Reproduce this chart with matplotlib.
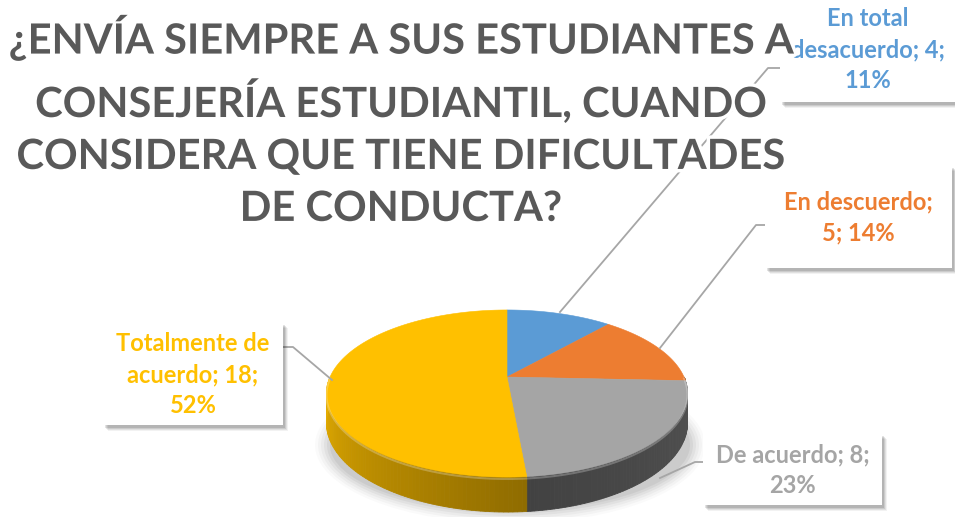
import numpy as np
import matplotlib
matplotlib.use("Agg")
import matplotlib.pyplot as plt
import matplotlib.patheffects as pe
from matplotlib.patches import Polygon, Rectangle, Ellipse

title = "¿ENVÍA SIEMPRE A SUS ESTUDIANTES A\nCONSEJERÍA ESTUDIANTIL, CUANDO\nCONSIDERA QUE TIENE DIFICULTADES\nDE CONDUCTA?"
categories = ["En total desacuerdo", "En descuerdo", "De acuerdo", "Totalmente de acuerdo"]
values = [4, 5, 8, 18]
pct_labels = ["11%", "14%", "23%", "52%"]
label_texts = ["En total\ndesacuerdo; 4;\n11%", "En descuerdo;\n5; 14%",
               "De acuerdo; 8;\n23%", "Totalmente de\nacuerdo; 18;\n52%"]
colors = ["#5B9BD5", "#ED7D31", "#A5A5A5", "#FFC000"]
text_colors = ["#5B9BD5", "#ED7D31", "#A5A5A5", "#FFC000"]
side_shade = [(0.6, 0.6), (0.6, 0.6), (0.50, 0.40), (0.56, 0.92)]  # front -> back

# pie geometry in pixel coords
CX, CY, RX, RY, K, DEPTH = 507, 377, 177, 80.3, 0.198, 28

# label boxes: (x0, y0, x1, y1), leader line points
boxes = [(780, -5, 965, 102), (765, 165, 952, 268), (703, 433, 882, 505), (103, 322, 283, 425)]
leaders = [[(560, 312), (768, 68), (780, 68)],
           [(660, 348), (756, 225), (765, 225)],
           [(660, 478), (695, 462), (703, 462)],
           [(332, 380), (293, 347), (283, 347)]]

plt.rcParams['font.family'] = ['Lato', 'DejaVu Sans']

fig = plt.figure(figsize=(9.55, 5.17), dpi=100)
ax = fig.add_axes([0, 0, 1, 1])
ax.set_xlim(0, 955)
ax.set_ylim(517, 0)
ax.axis("off")


def proj(theta, drop=0.0):
    u, v = np.sin(theta), np.cos(theta)
    s = 1.0 / (1.0 + K * v)
    return CX + RX * u * s, CY - RY * v * s + drop * s


# soft shadow under the pie
for i, a in enumerate(np.linspace(0.05, 0.02, 6)):
    ax.add_patch(Ellipse((CX + 3, CY + 68), 2 * RX + 6 + i * 6, 132 + i * 5,
                         facecolor="black", alpha=a, edgecolor="none", zorder=1))

total = sum(values)
bounds = np.concatenate([[0], np.cumsum(values)]) / total * 2 * np.pi

# sides
for i in range(len(values)):
    t1, t2 = bounds[i], bounds[i + 1]
    a1, a2 = max(t1, np.pi / 2), min(t2, 3 * np.pi / 2)
    if a2 <= a1:
        continue
    ts = np.linspace(a1, a2, 80)
    base = np.array(matplotlib.colors.to_rgb(colors[i]))
    f0, f1 = side_shade[i]
    for j in range(len(ts) - 1):
        ta, tb = ts[j], ts[j + 1]
        frac = (0.5 * (ta + tb) - a1) / (a2 - a1)
        c = np.clip(base * (f0 + (f1 - f0) * frac), 0, 1)
        pts = [proj(ta), proj(tb), proj(tb, DEPTH), proj(ta, DEPTH)]
        ax.add_patch(Polygon(pts, closed=True, facecolor=c, edgecolor=c, lw=0.6, zorder=2))

# top faces
for i in range(len(values)):
    ts = np.linspace(bounds[i], bounds[i + 1], 120)
    pts = [(CX, CY)] + [proj(t) for t in ts]
    ax.add_patch(Polygon(pts, closed=True, facecolor=colors[i], edgecolor=colors[i],
                         lw=0.4, zorder=3))

# highlight rim along the front edge
ts = np.linspace(np.pi / 2, 3 * np.pi / 2, 200)
rim = np.array([proj(t, 1.5) for t in ts])
ax.plot(rim[:, 0], rim[:, 1], color="white", alpha=0.25, lw=1.5, zorder=3.5)

# leader lines
for pts in leaders:
    xs, ys = zip(*pts)
    ax.plot(xs, ys, color="#A6A6A6", lw=1.3, zorder=4)

# label boxes with soft shadow to the lower right
for i, (x0, y0, x1, y1) in enumerate(boxes):
    for d, a in [(6, 0.05), (5, 0.07), (4, 0.09), (3, 0.11)]:
        ax.add_patch(Rectangle((x0 + d - 1, y0 + d), x1 - x0, y1 - y0, facecolor="black",
                               alpha=a, edgecolor="none", zorder=5))
    ax.add_patch(Rectangle((x0, y0), x1 - x0, y1 - y0, facecolor="white",
                           edgecolor="none", zorder=5.5))
    ax.text((x0 + min(x1, 955)) / 2, (y0 + y1) / 2 + 1, label_texts[i], color=text_colors[i],
            fontsize=17, fontweight="bold", ha="center", va="center",
            linespacing=1.42, zorder=6)

# title
ax.text(401, 121, title, fontsize=30, fontweight="bold", color="#595959",
        ha="center", va="center", linespacing=1.45, zorder=7,
        path_effects=[pe.withStroke(linewidth=5, foreground="white")])

fig.savefig("out.png", dpi=100)
